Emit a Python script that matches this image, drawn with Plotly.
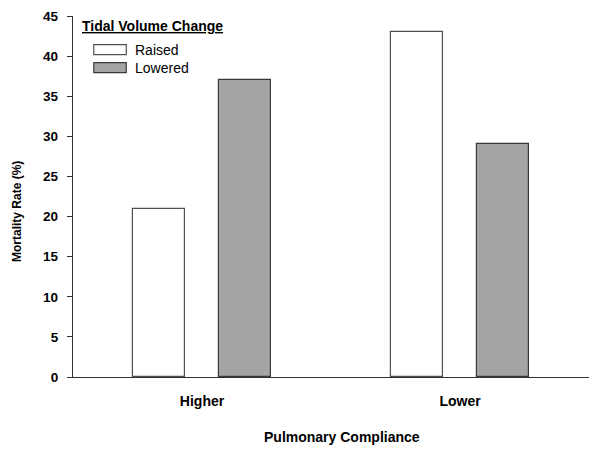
import plotly.graph_objects as go

categories = ["Higher", "Lower"]
raised = [21, 43]
lowered = [37, 29]
series_names = ["Raised", "Lowered"]
y_ticks = [0, 5, 10, 15, 20, 25, 30, 35, 40, 45]

FONT = "Liberation Sans, Arial, sans-serif"
GRAY = "#a4a4a4"
EDGE = "#3a3a3a"

fig = go.Figure()
fig.add_trace(go.Bar(x=categories, y=raised, name=series_names[0],
                     marker=dict(color="white", line=dict(color="#505050", width=1.2)),
                     width=0.2, offset=-0.2667, showlegend=False))
fig.add_trace(go.Bar(x=categories, y=lowered, name=series_names[1],
                     marker=dict(color=GRAY, line=dict(color=EDGE, width=1.2)),
                     width=0.2, offset=0.0667, showlegend=False))

L, R, T, B = 72.7, 11, 16.4, 73.7
W, H = 600, 451
pw, ph = W - L - R, H - T - B

def px(x):
    return (x - L) / pw

def py(y):
    return (H - B - y) / ph

# custom legend
fig.add_annotation(x=px(80), y=py(26), xref="paper", yref="paper",
                   text="<b><u>Tidal Volume Change</u></b>", showarrow=False,
                   xanchor="left", yanchor="middle",
                   font=dict(family=FONT, size=14, color="black"))
for i, (name, fill, line) in enumerate([(series_names[0], "white", "#505050"),
                                         (series_names[1], GRAY, EDGE)]):
    yc = 50 + i * 18
    fig.add_shape(type="rect", xref="paper", yref="paper",
                  x0=px(93.5), x1=px(126), y0=py(yc - 5), y1=py(yc + 5),
                  fillcolor=fill, line=dict(color=line, width=1.2))
    fig.add_annotation(x=px(133), y=py(yc), xref="paper", yref="paper",
                       text=name, showarrow=False, xanchor="left", yanchor="middle",
                       font=dict(family=FONT, size=14, color="black"))

# axis titles
fig.add_annotation(x=px(341.6), y=py(437), xref="paper", yref="paper",
                   text="<b>Pulmonary Compliance</b>", showarrow=False,
                   xanchor="center", yanchor="middle",
                   font=dict(family=FONT, size=14, color="black"))
fig.add_annotation(x=px(16.5), y=py(211.5), xref="paper", yref="paper",
                   text="<b>Mortality Rate (%)</b>", showarrow=False, textangle=-90,
                   xanchor="center", yanchor="middle",
                   font=dict(family=FONT, size=12, color="black"))

fig.update_layout(
    width=W, height=H,
    margin=dict(l=L, r=R, t=T, b=B, pad=0),
    plot_bgcolor="white", paper_bgcolor="white",
    font=dict(family=FONT, color="black"),
    bargap=0, barmode="group",
    xaxis=dict(range=[-0.5, 1.5], showline=True, linecolor="#333333", linewidth=1.3,
               ticks="", ticklabelstandoff=11, showgrid=False, zeroline=False,
               automargin=False,
               tickfont=dict(family=FONT, size=14, color="black"),
               tickvals=categories, ticktext=[f"<b>{c}</b>" for c in categories]),
    yaxis=dict(range=[0, 45], tickvals=y_ticks, ticktext=[f"<b>{v}</b>" for v in y_ticks],
               showline=True, linecolor="#333333", linewidth=1.3,
               ticks="outside", ticklen=5, tickcolor="#333333", tickwidth=1.2,
               ticklabelstandoff=6, automargin=False,
               showgrid=False, zeroline=False,
               tickfont=dict(family=FONT, size=13.5, color="black")),
)

fig.write_html("out.html", config={"displayModeBar": False},
               post_script="document.body.style.margin='0';")
